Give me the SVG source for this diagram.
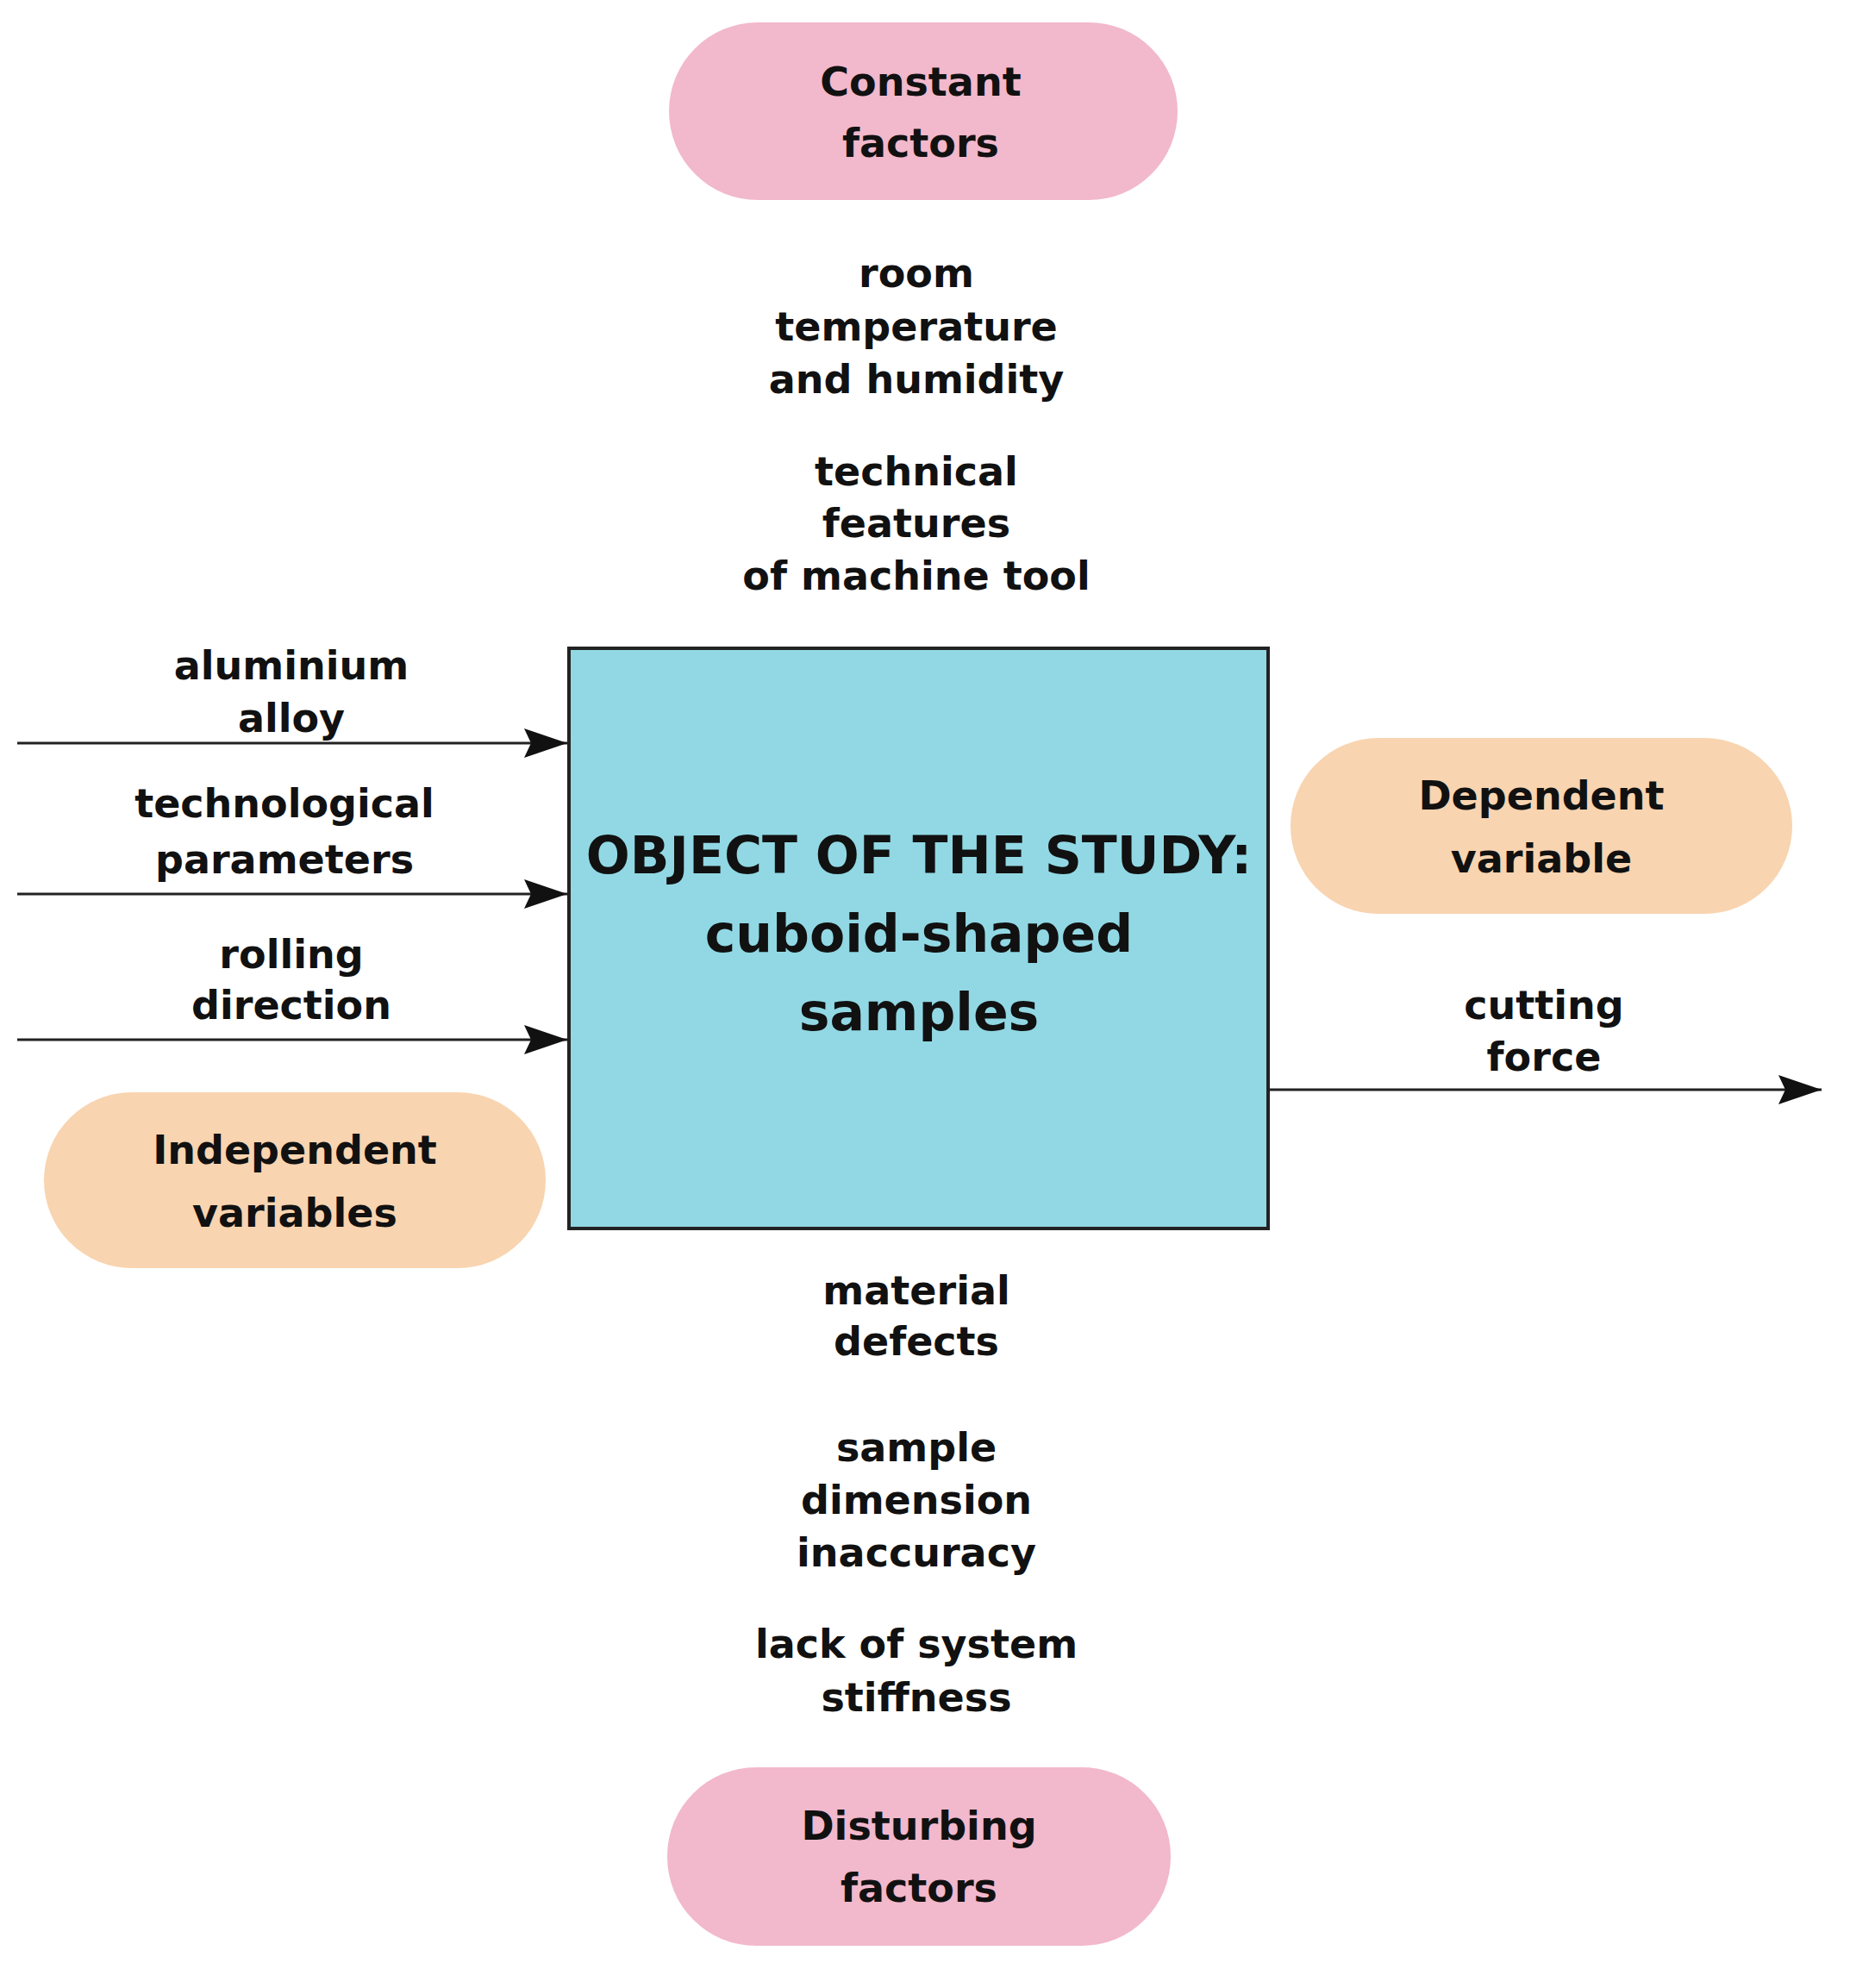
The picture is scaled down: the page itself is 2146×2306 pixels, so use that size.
<svg xmlns="http://www.w3.org/2000/svg" width="2146" height="2306" viewBox="0 0 2146 2306">
<style>
text{font-family:"DejaVu Sans","Liberation Sans",sans-serif;font-weight:bold;font-size:46px;text-anchor:middle;fill:#111}
.big{font-size:60px}
.pink{fill:#f2b8cc}
.peach{fill:#f8d4b0}
.ln{stroke:#222;stroke-width:3;fill:none}
</style>
<defs><marker id="ah" viewBox="0 0 12 10" refX="12" refY="5" markerWidth="12" markerHeight="10" markerUnits="userSpaceOnUse" orient="auto"><path d="M0,0 L12,5 L0,10 z" fill="#111"/></marker>
<marker id="a" viewBox="0 0 50 34" refX="50" refY="17" markerWidth="50" markerHeight="34" markerUnits="userSpaceOnUse" orient="auto"><path d="M0,0 L50,17 L0,34 L8,17 z" fill="#111"/></marker></defs>
<g id="constant"><rect class="pink" x="776" y="26" width="590" height="206" rx="103"/><text x="1068" y="111">Constant</text><text x="1068" y="182">factors</text></g>
<g id="constlist"><text x="1063" y="333">room</text><text x="1063" y="395">temperature</text><text x="1063" y="456">and humidity</text><text x="1063" y="563">technical</text><text x="1063" y="623">features</text><text x="1063" y="684">of machine tool</text></g>
<g id="object"><rect x="660" y="752" width="811" height="673" fill="#91d8e4" stroke="#222" stroke-width="4"/><text class="big" x="1066" y="1013">OBJECT OF THE STUDY:</text><text class="big" x="1066" y="1104">cuboid-shaped</text><text class="big" x="1066" y="1195">samples</text></g>
<g id="inputs"><text x="338" y="788">aluminium</text><text x="338" y="849">alloy</text><text x="330" y="948">technological</text><text x="330" y="1013">parameters</text><text x="338" y="1123">rolling</text><text x="338" y="1182">direction</text></g>
<g id="independent"><rect class="peach" x="51" y="1267" width="582" height="204" rx="102"/><text x="342" y="1350">Independent</text><text x="342" y="1423">variables</text></g>
<g id="dependent"><rect class="peach" x="1497" y="856" width="582" height="204" rx="102"/><text x="1788" y="939">Dependent</text><text x="1788" y="1012">variable</text></g>
<g id="output"><text x="1791" y="1182">cutting</text><text x="1791" y="1242">force</text></g>
<g id="disturblist"><text x="1063" y="1513">material</text><text x="1063" y="1572">defects</text><text x="1063" y="1695">sample</text><text x="1063" y="1756">dimension</text><text x="1063" y="1817">inaccuracy</text><text x="1063" y="1923">lack of system</text><text x="1063" y="1985">stiffness</text></g>
<g id="disturbing"><rect class="pink" x="774" y="2050" width="584" height="207" rx="103"/><text x="1066" y="2134">Disturbing</text><text x="1066" y="2206">factors</text></g>
<g id="connectors"><line class="ln" x1="20" y1="862" x2="658" y2="862" marker-end="url(#a)"/><line class="ln" x1="20" y1="1037" x2="658" y2="1037" marker-end="url(#a)"/><line class="ln" x1="20" y1="1206" x2="658" y2="1206" marker-end="url(#a)"/><line class="ln" x1="1471" y1="1264" x2="2113" y2="1264" marker-end="url(#a)"/></g>
</svg>
